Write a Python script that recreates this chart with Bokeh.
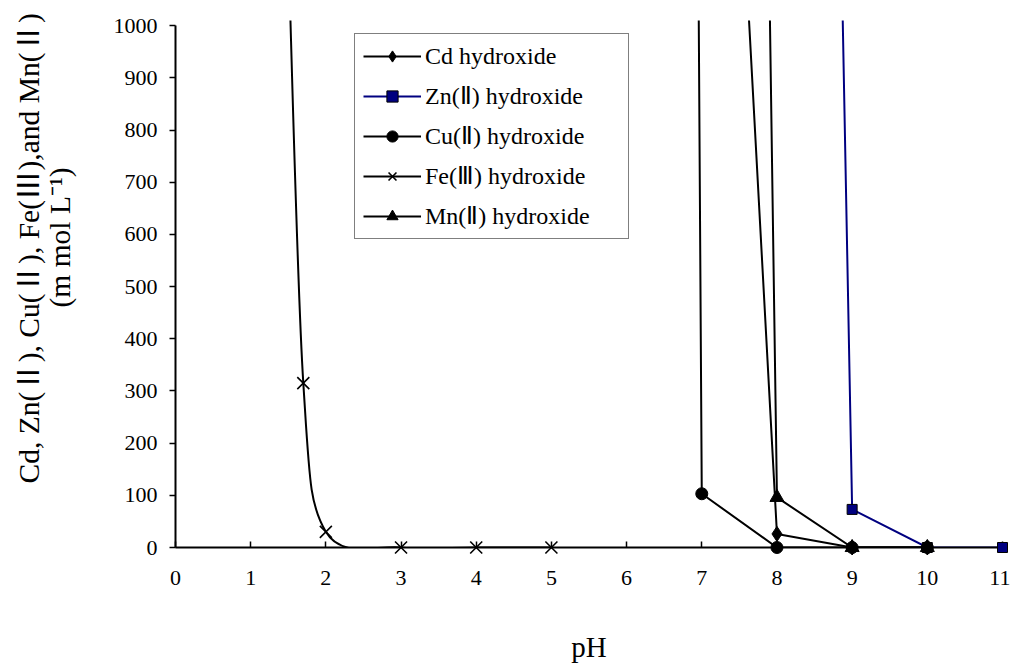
import math
from bokeh.plotting import figure
from bokeh.models import (Range1d, FixedTicker, Legend, LegendItem, ColumnDataSource, Title,
                          LinearAxis)
from bokeh.embed import file_html
from bokeh.resources import INLINE

# ---------------- data ----------------
ph_ticks = list(range(0, 12))
conc_ticks = list(range(0, 1001, 100))

cd_ph = [7, 8, 9, 10]
cd_val = [2675, 26, 0, 0]

zn_ph = [8, 9, 10, 11]
zn_val = [7570, 73, 0, 0]

cu_ph = [6, 7, 8, 9, 10]
cu_val = [22800, 103, 0, 0, 0]

fe_ph = [1.5, 1.7, 2, 3, 4, 5]
fe_val = [1150, 315, 30, 0, 0, 0]

mn_ph = [7, 8, 9, 10]
mn_val = [9900, 96, 0, 0]

series_labels = ["Cd hydroxide", "Zn(Ⅱ) hydroxide", "Cu(Ⅱ) hydroxide",
                 "Fe(Ⅲ) hydroxide", "Mn(Ⅱ) hydroxide"]
x_title = "pH"
y_title_1 = "Cd, Zn(Ⅱ), Cu(Ⅱ), Fe(Ⅲ),and Mn(Ⅱ)"
y_title_2 = "(m mol L⁻¹)"

SERIF = "Liberation Serif"
SERIF_CJK = "Liberation Serif, Noto Sans CJK SC"
NAVY = "#000080"

# ---------------- figure ----------------
p = figure(width=1010, height=668, x_range=Range1d(0, 11), y_range=Range1d(0, 1010),
           output_backend="svg", toolbar_location=None,
           min_border_left=175, min_border_right=8, min_border_top=20, min_border_bottom=121)
p.xgrid.visible = False
p.ygrid.visible = False
p.outline_line_color = None
p.background_fill_color = "white"
p.border_fill_color = "white"

# x axis
xa = p.xaxis[0]
xa.ticker = FixedTicker(ticks=ph_ticks)
xa.bounds = (0, 11)
xa.axis_line_width = 2
xa.axis_line_color = "black"
xa.major_tick_in = 6
xa.major_tick_out = 0
xa.major_tick_line_width = 1.5
xa.major_tick_line_color = "black"
xa.minor_tick_line_color = None
xa.major_label_text_font = SERIF
xa.major_label_text_font_size = "22px"
xa.major_label_text_color = "black"
xa.major_label_standoff = 23
xa.axis_label = x_title
xa.axis_label_text_font = SERIF
xa.axis_label_text_font_size = "29px"
xa.axis_label_text_font_style = "normal"
xa.axis_label_text_color = "black"
xa.axis_label_standoff = 43

# y axis
ya = p.yaxis[0]
ya.ticker = FixedTicker(ticks=conc_ticks)
ya.bounds = (0, 1000)
ya.axis_line_width = 2
ya.axis_line_color = "black"
ya.major_tick_in = 0
ya.major_tick_out = 6
ya.major_tick_line_width = 1.5
ya.major_tick_line_color = "black"
ya.minor_tick_line_color = None
ya.major_label_text_font = SERIF
ya.major_label_text_font_size = "22px"
ya.major_label_text_color = "black"
ya.major_label_standoff = 12

# blank spacer axis (white tick on white border) between tick labels and y title
spacer = LinearAxis(ticker=FixedTicker(ticks=[50]), axis_line_color=None,
                    major_tick_line_color="white", minor_tick_line_color=None,
                    major_tick_in=0, major_tick_out=34, minor_tick_out=0,
                    major_label_standoff=0, major_label_overrides={50: ""})
p.add_layout(spacer, "left")

# y axis title: two lines as side titles
t2 = Title(text=y_title_2, align="left", offset=240, standoff=0, vertical_align="middle",
           text_font=SERIF_CJK, text_font_size="29.5px", text_font_style="normal",
           text_color="black")
p.add_layout(t2, "left")
t1 = Title(text=y_title_1, align="left", offset=64, standoff=-6, vertical_align="middle",
           text_font=SERIF_CJK, text_font_size="29.5px", text_font_style="normal",
           text_color="black")
p.add_layout(t1, "left")

# ---------------- series ----------------
def smooth_segments(xs, ys):
    out = dict(x0=[], y0=[], x1=[], y1=[], cx0=[], cy0=[], cx1=[], cy1=[])
    n = len(xs)
    for i in range(n - 1):
        xp, yp = (xs[i - 1], ys[i - 1]) if i > 0 else (xs[i], ys[i])
        xn, yn = (xs[i + 2], ys[i + 2]) if i + 2 < n else (xs[i + 1], ys[i + 1])
        out["x0"].append(xs[i]); out["y0"].append(ys[i])
        out["x1"].append(xs[i + 1]); out["y1"].append(ys[i + 1])
        out["cx0"].append(xs[i] + (xs[i + 1] - xp) / 6.0)
        out["cy0"].append(ys[i] + (ys[i + 1] - yp) / 6.0)
        out["cx1"].append(xs[i + 1] - (xn - xs[i]) / 6.0)
        out["cy1"].append(ys[i + 1] - (yn - ys[i]) / 6.0)
    return out

# Cd
cd_line = p.line(cd_ph, cd_val, line_color="black", line_width=2)
cd_pts = p.scatter(cd_ph, cd_val, marker="diamond", size=15,
                   fill_color="black", line_color="black", level="overlay")
# Zn
zn_line = p.line(zn_ph, zn_val, line_color=NAVY, line_width=2)
zn_pts = p.scatter(zn_ph, zn_val, marker="square", size=10, fill_color=NAVY,
                   line_color="black", line_width=1, level="overlay")
# Cu
cu_line = p.line(cu_ph, cu_val, line_color="black", line_width=2)
cu_pts = p.scatter(cu_ph, cu_val, marker="circle", size=12, fill_color="black",
                   line_color="black", level="overlay")
# Fe (smoothed line)
fe_src = ColumnDataSource(smooth_segments(fe_ph, fe_val))
fe_line = p.bezier(x0="x0", y0="y0", x1="x1", y1="y1", cx0="cx0", cy0="cy0",
                   cx1="cx1", cy1="cy1", source=fe_src, line_color="black", line_width=2)
fe_pts = p.scatter(fe_ph, fe_val, marker="x", size=17, line_color="black",
                   line_width=1.6, level="overlay")
# Mn
mn_line = p.line(mn_ph, mn_val, line_color="black", line_width=2)
mn_pts = p.scatter(mn_ph, mn_val, marker="triangle", size=14, fill_color="black",
                   line_color="black", level="overlay")

renderers = [(cd_line, cd_pts), (zn_line, zn_pts), (cu_line, cu_pts),
             (fe_line, fe_pts), (mn_line, mn_pts)]
items = [LegendItem(label=lab, renderers=list(rs)) for lab, rs in zip(series_labels, renderers)]

legend = Legend(items=items, location=(179, 308), orientation="vertical",
                padding=8, spacing=12, margin=0,
                glyph_width=58, glyph_height=28, label_height=28, label_width=195,
                label_standoff=4,
                label_text_font=SERIF, label_text_font_size="24px",
                label_text_color="black",
                border_line_color="black", border_line_width=1.5,
                background_fill_color="white", background_fill_alpha=1.0)
p.add_layout(legend)

open("out.html", "w").write(file_html(p, INLINE))
